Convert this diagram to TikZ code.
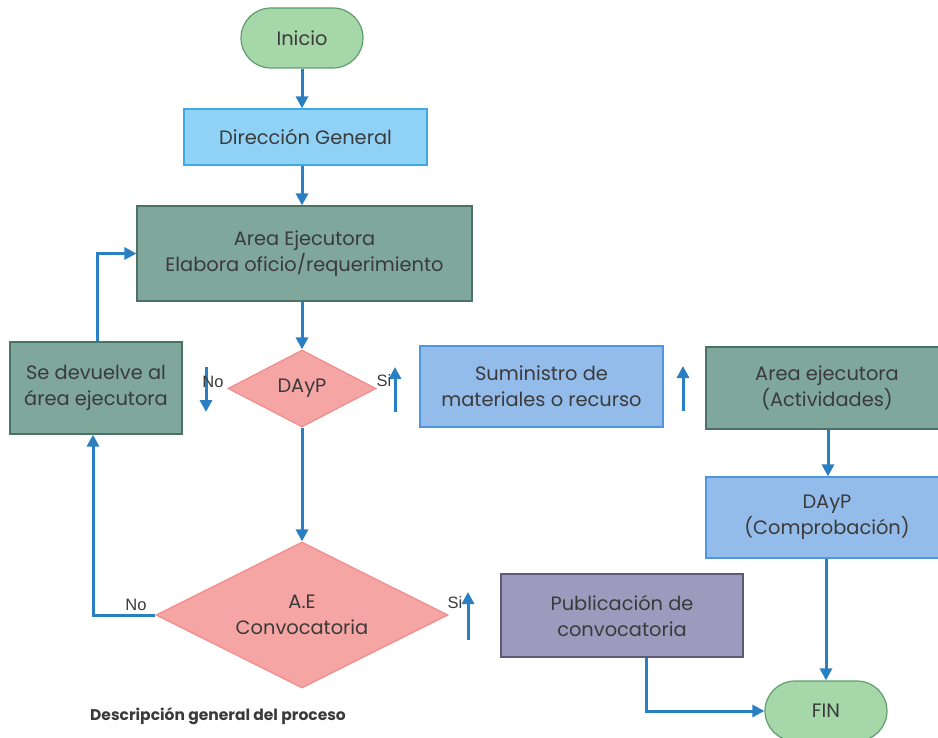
\documentclass[tikz,border=0pt]{standalone}
\usepackage{fontspec}
\setmainfont{Poppins}
\newfontfamily\labelfont{Liberation Sans}
\usetikzlibrary{shapes.geometric,arrows.meta}

\definecolor{flowblue}{HTML}{2A7FC2}
\definecolor{textgrey}{HTML}{3A3A3A}
\definecolor{endfill}{HTML}{A6D7A8}
\definecolor{enddraw}{HTML}{5E9E6E}
\definecolor{dirfill}{HTML}{90D2F6}
\definecolor{dirdraw}{HTML}{3FA8E6}
\definecolor{areafill}{HTML}{7FA79C}
\definecolor{areadraw}{HTML}{4A7266}
\definecolor{decfill}{HTML}{F6A5A5}
\definecolor{decdraw}{HTML}{F08C8C}
\definecolor{supfill}{HTML}{94BCEA}
\definecolor{supdraw}{HTML}{4E97E0}
\definecolor{pubfill}{HTML}{9C9BBE}
\definecolor{pubdraw}{HTML}{5B5B78}

\begin{document}
\begin{tikzpicture}[x=1pt,y=1pt,yscale=-1,xscale=1,
	box/.style={draw, line width=1.2pt, inner sep=0pt, align=center, text=textgrey, font=\fontsize{19.4}{26}\selectfont},
	terminal/.style={box, fill=endfill, draw=enddraw, rounded corners=30pt, minimum width=122pt, minimum height=60pt},
	areabox/.style={box, fill=areafill, draw=areadraw},
	bluebox/.style={box, fill=supfill, draw=supdraw},
	decision/.style={box, diamond, shape aspect=2, fill=decfill, draw=decdraw},
	flow/.style={draw=flowblue, line width=3pt, -{Triangle[length=12pt,width=12pt]}},
	answer/.style={inner sep=0pt, text=textgrey, font=\labelfont\fontsize{16.5}{18}\selectfont}
	]
		\useasboundingbox (0,0) rectangle (938,738);
		\clip (0,0) rectangle (938,738);
		
		%Shape: Terminal [id:inicio]
		\node [terminal] (inicio) at (302,38) {Inicio};
		%Shape: Rectangle [id:direccion]
		\node [box, fill=dirfill, draw=dirdraw, minimum width=243pt, minimum height=56pt] (direccion) at (305.5,137) {Dirección General};
		%Shape: Rectangle [id:area]
		\node [areabox, minimum width=335pt, minimum height=95pt] (area) at (304.5,253.5) {Area Ejecutora\\Elabora oficio/requerimiento};
		%Shape: Diamond [id:dayp]
		\node [decision, minimum width=148pt, minimum height=77pt] (dayp) at (302,388.5) {DAyP};
		%Shape: Rectangle [id:devuelve]
		\node [areabox, minimum width=172pt, minimum height=92pt] (devuelve) at (96,388) {Se devuelve al\\área ejecutora};
		%Shape: Rectangle [id:suministro]
		\node [bluebox, minimum width=243pt, minimum height=81pt] (suministro) at (541.5,386.5) {Suministro de\\materiales o recurso};
		%Shape: Rectangle [id:actividades]
		\node [areabox, minimum width=242pt, minimum height=82pt] (actividades) at (827,388) {Area ejecutora\\(Actividades)};
		%Shape: Rectangle [id:comprobacion]
		\node [bluebox, minimum width=242pt, minimum height=81pt] (comprobacion) at (827,517.5) {DAyP\\(Comprobación)};
		%Shape: Diamond [id:convocatoria]
		\node [decision, minimum width=292pt, minimum height=146pt] (convocatoria) at (302,615) {A.E\\Convocatoria};
		%Shape: Rectangle [id:publicacion]
		\node [box, fill=pubfill, draw=pubdraw, minimum width=242pt, minimum height=83pt] (publicacion) at (622,615.5) {Publicación de\\convocatoria};
		%Shape: Terminal [id:fin]
		\node [terminal] (fin) at (826,711) {FIN};
		
		%Straight Lines [id:flow]
		\draw [flow] (inicio.south) -- (inicio.south |- direccion.north);
		\draw [flow] (inicio.south |- direccion.south) -- (inicio.south |- area.north);
		\draw [flow] (dayp.north |- area.south) -- (dayp.north);
		\draw [flow] (dayp.south) -- (convocatoria.north);
		\draw [flow] ([xshift=1pt]devuelve.north) |- (area.west);
		\draw [flow] (convocatoria.west) -| ([xshift=-3pt]devuelve.south);
		\draw [flow] ([xshift=1pt]actividades.south) -- ([xshift=1pt]comprobacion.north);
		\draw [flow] (comprobacion.south -| fin.north) -- (fin.north);
		\draw [flow] ([xshift=24pt]publicacion.south) |- (fin.west);
		
		%Straight Lines [id:loose arrows]
		\coordinate (noTail) at (206,367);
		\coordinate (noTip) at (206,412);
		\coordinate (siTail) at (395,412);
		\coordinate (siTip) at (395,367);
		\coordinate (supTail) at (683,411);
		\coordinate (supTip) at (683,366);
		\coordinate (convTail) at (468,640);
		\coordinate (convTip) at (468,592);
		\draw [flow] (noTail) -- (noTip);
		\draw [flow] (siTail) -- (siTip);
		\draw [flow] (supTail) -- (supTip);
		\draw [flow] (convTail) -- (convTip);
		
		% Text Node
		\node [answer] (noDayp) at (213,382) {No};
		% Text Node
		\node [answer] (siDayp) at (384,381) {Si};
		% Text Node
		\node [answer] (noConv) at (136,605) {No};
		% Text Node
		\node [answer] (siConv) at (455,603) {Si};
		% Text Node
		\node [anchor=west, inner sep=0pt, text=textgrey, font=\bfseries\fontsize{15.5}{18}\selectfont] (caption) at (90,716) {Descripción general del proceso};
		
\end{tikzpicture}
\end{document}
